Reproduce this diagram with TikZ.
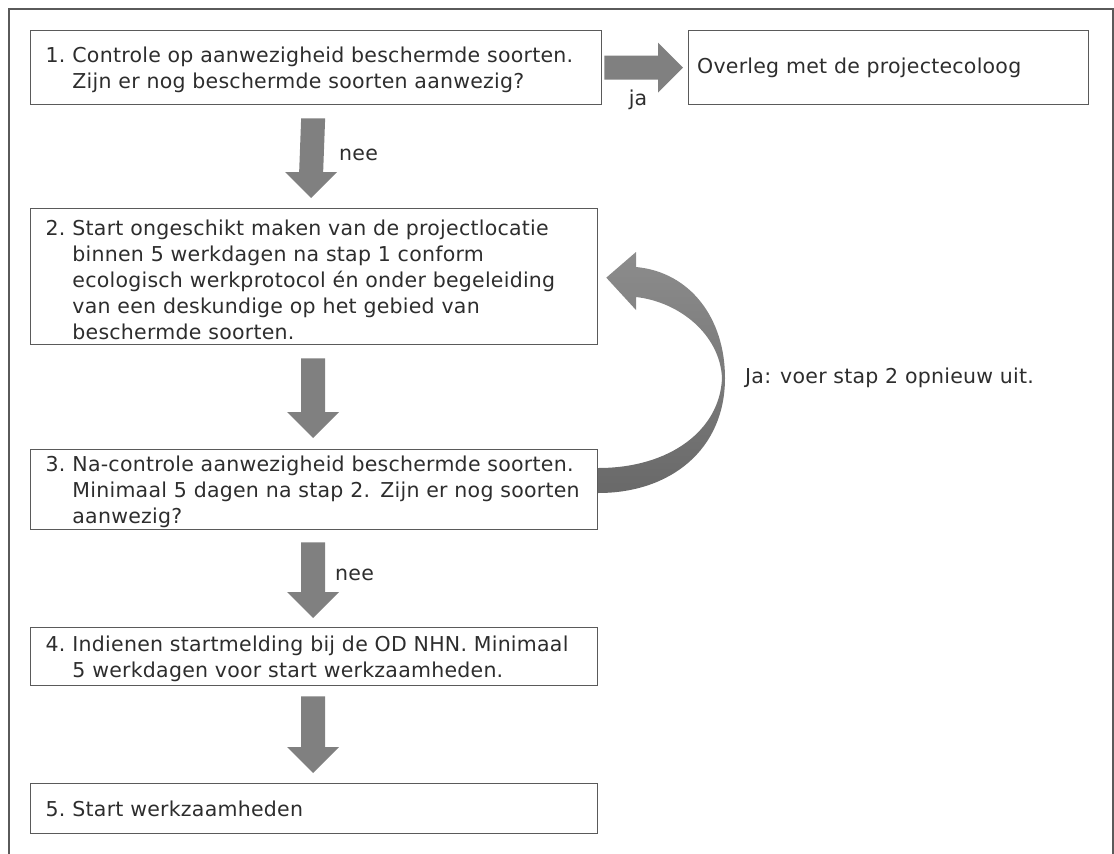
\documentclass[tikz,border=0pt]{standalone}
\usepackage{fontspec}
\setmainfont{DejaVu Sans}[LetterSpace=1.2]
\usetikzlibrary{calc}
\definecolor{framegray}{RGB}{90,90,90}
\definecolor{arrowgray}{RGB}{128,128,128}
\definecolor{ribbontop}{RGB}{140,140,140}
\definecolor{ribbonbot}{RGB}{105,105,105}
\definecolor{txt}{RGB}{45,45,45}
\newcommand\blockdown[2]{%
  \fill[arrowgray] ($(#1)+(-12,0)$) -- ($(#1)+(12,0)$) -- ($(#2)+(12,-26)$) -- ($(#2)+(26,-26)$) -- (#2) -- ($(#2)+(-26,-26)$) -- ($(#2)+(-12,-26)$) -- cycle;}
\newcommand\shiftdn[2]{\raisebox{-#1}[\height][\depth]{#2}}
\begin{document}
\begin{tikzpicture}[x=1pt,y=-1pt,
  box/.style={draw=framegray, line width=1.3pt, anchor=north west, inner sep=0pt, align=left, text=txt, font=\fontsize{20.5}{26}\selectfont},
  lbl/.style={text=txt, font=\fontsize{20.5}{26}\selectfont, inner sep=0pt}]
\useasboundingbox (0,0) rectangle (1114,854);
\draw[framegray, line width=1.3pt] (9,854) -- (9,9) -- (1113,9) -- (1113,854);
% boxes
\node[box, minimum width=571, minimum height=74, text width=541] (b1) at (30,30)
  {\shiftdn{3pt}{\begin{tabular}{@{}l@{\hspace{7pt}}l@{}}1. & Controle op aanwezigheid beschermde soorten.\\ & Zijn er nog beschermde soorten aanwezig?\end{tabular}}};
\node[box, minimum width=400, minimum height=74, text width=383] (b6) at (688,30)
  {Overleg met de projectecoloog};
\node[box, minimum width=567, minimum height=136, text width=537] (b2) at (30,208)
  {\shiftdn{6pt}{\begin{tabular}{@{}l@{\hspace{7pt}}l@{}}2. & Start ongeschikt maken van de projectlocatie\\ & binnen 5 werkdagen na stap 1 conform\\ & ecologisch werkprotocol én onder begeleiding\\ & van een deskundige op het gebied van\\ & beschermde soorten.\end{tabular}}};
\node[box, minimum width=567, minimum height=80, text width=537] (b3) at (30,449)
  {\shiftdn{3pt}{\begin{tabular}{@{}l@{\hspace{7pt}}l@{}}3. & Na-controle aanwezigheid beschermde soorten.\\ & Minimaal 5 dagen na stap 2. Zijn er nog soorten\\ & aanwezig?\end{tabular}}};
\node[box, minimum width=567, minimum height=58, text width=537] (b4) at (30,627)
  {\shiftdn{3pt}{\begin{tabular}{@{}l@{\hspace{7pt}}l@{}}4. & Indienen startmelding bij de OD NHN. Minimaal\\ & 5 werkdagen voor start werkzaamheden.\end{tabular}}};
\node[box, minimum width=567, minimum height=50, text width=537] (b5) at (30,783)
  {\shiftdn{3pt}{\begin{tabular}{@{}l@{\hspace{7pt}}l@{}}5. & Start werkzaamheden\end{tabular}}};
% down arrows
\path ($(b1.south)+(-3,13)$) coordinate (a1s) ($(b2.north)+(-3,-10)$) coordinate (a1e);
\blockdown{a1s}{a1e}
\path ($(b2.south)+(-1,13)$) coordinate (a2s) ($(b3.north)+(-1,-11)$) coordinate (a2e);
\blockdown{a2s}{a2e}
\path ($(b3.south)+(-1,12)$) coordinate (a3s) ($(b4.north)+(-1,-9)$) coordinate (a3e);
\blockdown{a3s}{a3e}
\path ($(b4.south)+(-1,10)$) coordinate (a4s) ($(b5.north)+(-1,-10)$) coordinate (a4e);
\blockdown{a4s}{a4e}
% right arrow
\path ($(b1.east)+(2,0)$) coordinate (r1) ($(b6.west)+(-5,0)$) coordinate (r2);
\fill[arrowgray] ($(r1)+(0,-12)$) -- ($(r2)+(-25,-12)$) -- ($(r2)+(-25,-25)$) -- (r2) -- ($(r2)+(-25,25)$) -- ($(r2)+(-25,12)$) -- ($(r1)+(0,12)$) -- cycle;
% curved arrow from b3 back to b2
\path (b3.east |- 0,493) coordinate (c1) (b3.east |- 0,468) coordinate (c2) ($(b2.east)+(8,1)$) coordinate (tip);
\shade[top color=ribbontop, bottom color=ribbonbot]
  (c1) .. controls (670,493) and (725,450) .. (725,378)
  .. controls (725,318) and (690,272) .. (636,267)
  -- (636,252) -- (tip) -- (636,310) -- (636,297)
  .. controls (680,302) and (720,335) .. (722,378)
  .. controls (720,430) and (670,468) .. (c2) -- cycle;
% labels
\node[lbl] at (638,100) {ja};
\node[lbl, anchor=west] at (339,155) {nee};
\node[lbl, anchor=west] at (335,575) {nee};
\node[lbl, anchor=west] at (745,378) {Ja: voer stap 2 opnieuw uit.};
\end{tikzpicture}
\end{document}
